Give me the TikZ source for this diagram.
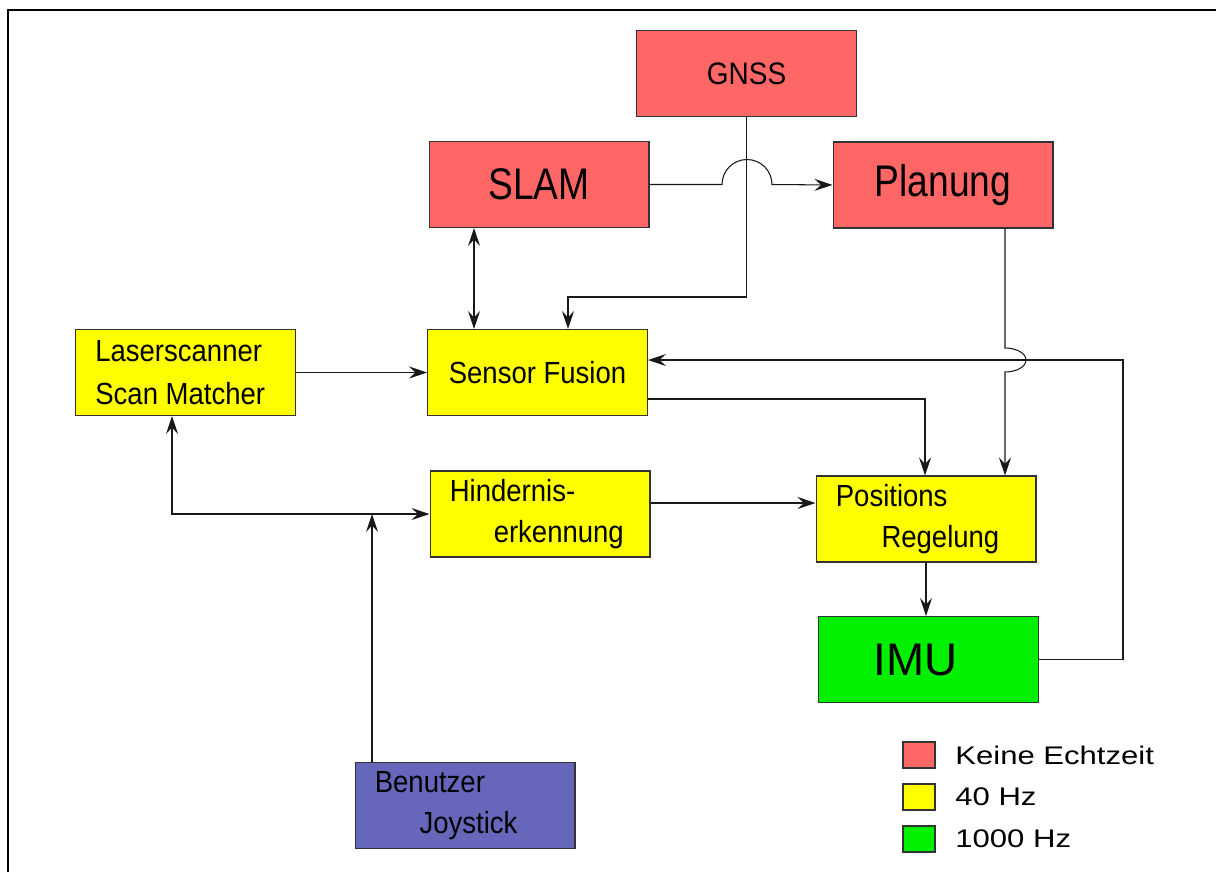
\documentclass[tikz,border=0pt]{standalone}
\usepackage{fontspec}
\setmainfont{Liberation Sans}
\newfontfamily\boxfont[FakeStretch=0.9]{Liberation Sans}
\newfontfamily\bigfont[FakeStretch=0.84]{Liberation Sans}
\newfontfamily\legfont[FakeStretch=1.22]{Liberation Sans}
\usepackage{tikz}
\usetikzlibrary{positioning,arrows.meta,calc}
\definecolor{keine}{HTML}{FF6666}
\definecolor{vierzig}{HTML}{FFFF00}
\definecolor{tausend}{HTML}{00F000}
\definecolor{nutzer}{HTML}{6666BB}
\definecolor{rand}{HTML}{333333}

\begin{document}
\begin{tikzpicture}[x=0.02cm, y=-0.02cm,
  box/.style={draw=rand, line width=0.6pt, minimum width=4.4cm, minimum height=1.72cm, inner sep=0pt},
  txt/.style={font=\boxfont\fontsize{17.4}{23}\selectfont, align=left, inner sep=0pt, anchor=west},
  arr/.style={-{Stealth[length=3.6mm,width=2.4mm,inset=1.3mm]}, line width=0.6pt, draw=black!90},
  both/.style={{Stealth[length=3.6mm,width=2.4mm,inset=1.3mm]}-{Stealth[length=3.6mm,width=2.4mm,inset=1.3mm]}, line width=0.6pt, draw=black!90},
  legbox/.style={draw=rand, line width=0.6pt, minimum width=0.64cm, minimum height=0.52cm, inner sep=0pt},
  legtxt/.style={font=\legfont\fontsize{14.5}{17}\selectfont, inner sep=0pt, anchor=west}]
\useasboundingbox (0,0) rectangle (1216,872);
\draw[line width=1.1pt] (8,872) -- (8,10) -- (1216,10);
% blocks
\node[box, fill=keine, font=\boxfont\fontsize{17.7}{20}\selectfont] (gnss) at (746.5,73.5) {GNSS};
\node[box, fill=keine, font=\bigfont\fontsize{25.2}{28}\selectfont] (slam) at (539,184.5) {SLAM};
\node[box, fill=keine, font=\bigfont\fontsize{25.2}{28}\selectfont] (plan) at (943,185) {Planung};
\node[box, fill=vierzig] (laser) at (185.5,372.5) {};
\node[txt] (lasertxt) at ([xshift=0.4cm]laser.west) {Laserscanner\\[1.5pt]Scan Matcher};
\node[box, fill=vierzig, font=\boxfont\fontsize{17.4}{20}\selectfont] (fus) at (537.5,372.5) {Sensor Fusion};
\node[box, fill=vierzig] (hin) at (540,514) {};
\node[txt] (hintxt) at ([xshift=0.4cm]hin.west) {Hindernis-\\\hspace*{25pt}erkennung};
\node[box, fill=vierzig] (pos) at (926,519) {};
\node[txt] (postxt) at ([xshift=0.4cm]pos.west) {Positions\\\hspace*{26pt}Regelung};
\node[box, fill=tausend] (imu) at (928.5,659.5) {};
\node[font=\fontsize{26}{30}\selectfont, inner sep=0pt] (imutxt) at ([xshift=-0.26cm]imu.center) {IMU};
\node[box, fill=nutzer] (joy) at (465,805.5) {};
\node[txt] (joytxt) at ([xshift=0.4cm]joy.west) {Benutzer\\\hspace*{25.5pt}Joystick};
% connectors
\draw[arr] (slam.east) -- (722,184.5) arc[start angle=180, end angle=0, radius=0.5cm] -- (plan.west);
\draw[arr] (gnss.south) -- ++(0,180) -| ([xshift=0.61cm]fus.north);
\coordinate (slamunten) at ([xshift=-1.3cm]slam.south);
\draw[both] (slamunten) -- (slamunten |- fus.north);
\draw[arr] (laser.east) -- (fus.west);
\draw[arr] ([xshift=1.24cm]plan.south) -- (1005,348) arc[start angle=90, end angle=-90, x radius=0.42cm, y radius=0.24cm] -- ([xshift=1.58cm]pos.north);
\draw[arr] (imu.east) -- ++(84,0) |- ([yshift=0.25cm]fus.east);
\draw[arr] ([yshift=-0.53cm]fus.east) -| ([xshift=-0.02cm]pos.north);
\coordinate (hinaus) at ([yshift=0.22cm]hin.east);
\draw[arr] (hinaus) -- (hinaus -| pos.west);
\draw[arr] (pos.south) -- (pos.south |- imu.north);
\coordinate (laserunten) at ([xshift=-0.27cm]laser.south);
\draw[both] (laserunten) |- (hin.west);
\coordinate (joyoben) at ([xshift=-1.86cm]joy.north);
\draw[arr] (joyoben) -- (joyoben |- hin.west);
% legend
\foreach \farbe/\y/\lab in {keine/755/Keine Echtzeit, vierzig/797/40 Hz, tausend/839/1000 Hz} {
  \node[legbox, fill=\farbe] (leg\farbe) at (919,\y) {};
  \node[legtxt] (legtxt\farbe) at ([xshift=0.72cm]leg\farbe.center) {\lab};
}
\end{tikzpicture}
\end{document}
